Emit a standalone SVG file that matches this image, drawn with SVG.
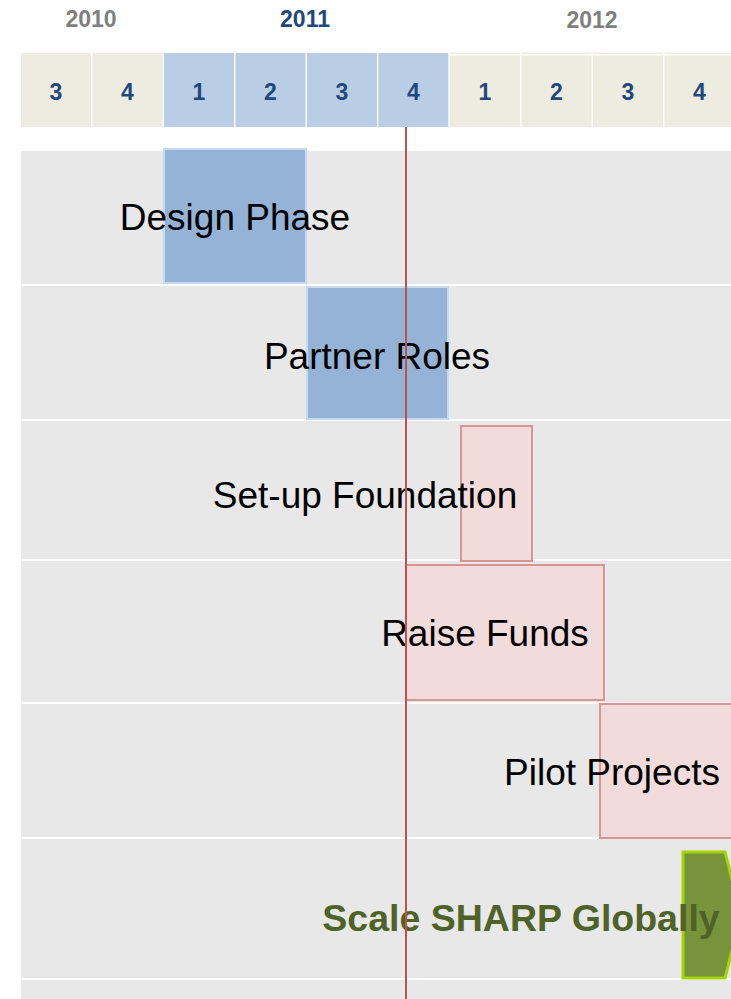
<svg xmlns="http://www.w3.org/2000/svg" width="731" height="999" viewBox="0 0 731 999">
  <style>
    .year { font-family: "Liberation Sans", Arial, sans-serif; font-weight: bold; font-size: 23px; text-anchor: middle; }
    .q { font-family: "Liberation Sans", Arial, sans-serif; font-weight: bold; font-size: 23px; fill: #1f497d; text-anchor: middle; }
    .cell-b { fill: #eeece1; }
    .cell-c { fill: #b9cde5; }
    .row { fill: #e8e8e8; }
    .task-blue { fill: #95b3d7; stroke: #c6d9f0; stroke-width: 2; }
    .task-red { fill: #f2dcdb; stroke: #d99594; stroke-width: 2; }
    .label { font-family: "Liberation Sans", Arial, sans-serif; font-size: 37px; fill: #000; text-anchor: middle; }
    .label-final { font-family: "Liberation Sans", Arial, sans-serif; font-weight: bold; font-size: 37.5px; fill: #4f6228; text-anchor: middle; }
  </style>
  <rect width="731" height="999" fill="#ffffff"/>

  <!-- year headings -->
  <g id="years">
    <text class="year" x="91" y="27" fill="#7f7f7f">2010</text>
    <text class="year" x="305" y="27" fill="#1f497d">2011</text>
    <text class="year" x="592" y="28" fill="#7f7f7f">2012</text>
  </g>

  <!-- quarter cells -->
  <g id="quarters">
    <rect class="cell-b" x="21" y="53" width="70" height="74"/>
    <rect class="cell-b" x="92.5" y="53" width="70" height="74"/>
    <rect class="cell-c" x="164" y="53" width="70" height="74"/>
    <rect class="cell-c" x="235.5" y="53" width="70" height="74"/>
    <rect class="cell-c" x="307" y="53" width="70" height="74"/>
    <rect class="cell-c" x="378.3" y="53" width="70" height="74"/>
    <rect class="cell-b" x="450" y="52.5" width="70" height="1.5"/>
    <rect class="cell-b" x="521.5" y="52.5" width="70" height="1.5"/>
    <rect class="cell-b" x="593" y="52.5" width="70" height="1.5"/>
    <rect class="cell-b" x="664.5" y="52.5" width="70" height="1.5"/>
    <rect class="cell-b" x="450" y="55.5" width="70" height="71.5"/>
    <rect class="cell-b" x="521.5" y="55.5" width="70" height="71.5"/>
    <rect class="cell-b" x="593" y="55.5" width="70" height="71.5"/>
    <rect class="cell-b" x="664.5" y="55.5" width="70" height="71.5"/>
    <text class="q" x="56" y="100">3</text>
    <text class="q" x="127.5" y="100">4</text>
    <text class="q" x="199" y="100">1</text>
    <text class="q" x="270.5" y="100">2</text>
    <text class="q" x="342" y="100">3</text>
    <text class="q" x="413.3" y="100">4</text>
    <text class="q" x="485" y="100">1</text>
    <text class="q" x="556.5" y="100">2</text>
    <text class="q" x="628" y="100">3</text>
    <text class="q" x="699.5" y="100">4</text>
  </g>

  <!-- row bands -->
  <g id="rows">
    <rect class="row" x="21" y="151" width="710" height="133"/>
    <rect class="row" x="21" y="286" width="710" height="133"/>
    <rect class="row" x="21" y="421" width="710" height="138"/>
    <rect class="row" x="21" y="561" width="710" height="141"/>
    <rect class="row" x="21" y="704" width="710" height="133"/>
    <rect class="row" x="21" y="839" width="710" height="139"/>
    <rect class="row" x="21" y="980" width="710" height="19"/>
  </g>

  <g id="design-phase">
    <rect class="task-blue" x="164" y="149" width="142" height="134"/>
    <text class="label" x="235" y="230">Design Phase</text>
  </g>

  <g id="partner-roles">
    <rect class="task-blue" x="307" y="287" width="141" height="132"/>
    <text class="label" x="377" y="369">Partner Roles</text>
  </g>

  <g id="setup-foundation">
    <rect class="task-red" x="461" y="426" width="71" height="135"/>
    <text class="label" x="365" y="508">Set-up Foundation</text>
  </g>

  <g id="raise-funds">
    <rect class="task-red" x="406" y="565" width="198" height="135"/>
    <text class="label" x="485" y="646">Raise Funds</text>
  </g>

  <g id="pilot-projects">
    <rect class="task-red" x="600" y="704" width="140" height="134"/>
    <text class="label" x="612" y="785">Pilot Projects</text>
  </g>

  <g id="scale-globally">
    <polygon points="683,852 725,852 741,915 725,978 683,978" fill="#77933c" stroke="#a4d400" stroke-width="3"/>
    <text class="label-final" x="521" y="931">Scale SHARP Globally</text>
  </g>

  <!-- today marker -->
  <g id="connectors">
    <line x1="406" y1="127" x2="406" y2="999" stroke="#c0504d" stroke-width="2"/>
  </g>
</svg>
